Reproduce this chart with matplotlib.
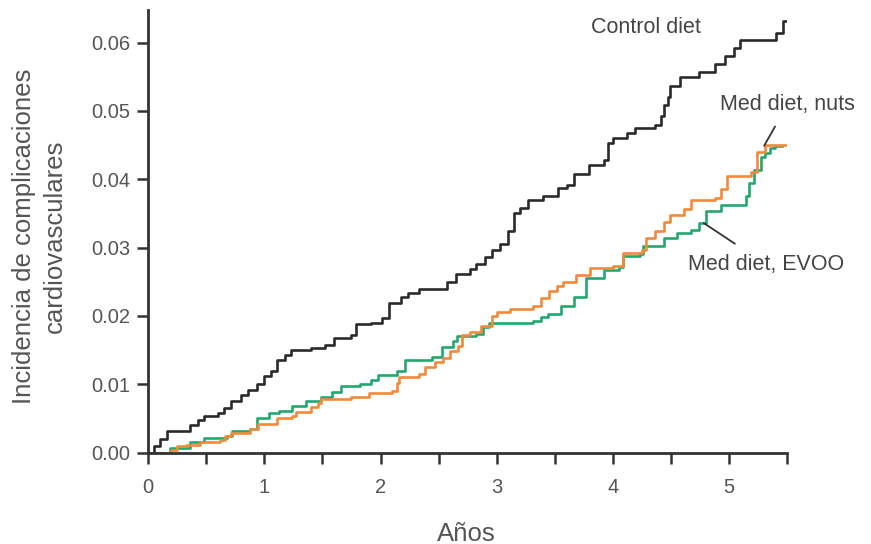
import matplotlib
matplotlib.use("Agg")
import matplotlib.pyplot as plt

plt.rcParams['font.family'] = ['Liberation Sans', 'DejaVu Sans']

# step curves: time (years) at which cumulative incidence jumps to the value
control_t = [0, 0.05, 0.10, 0.16, 0.36, 0.43, 0.48, 0.60, 0.65, 0.71, 0.80, 0.86,
             0.94, 1.00, 1.06, 1.11, 1.18, 1.23, 1.40, 1.52, 1.60, 1.75, 1.79, 1.92,
             2.01, 2.07, 2.18, 2.24, 2.33, 2.57, 2.65, 2.77, 2.82, 2.90, 2.96, 3.03,
             3.10, 3.15, 3.20, 3.27, 3.40, 3.53, 3.60, 3.66, 3.79, 3.92, 3.96, 4.00,
             4.12, 4.19, 4.36, 4.41, 4.44, 4.47, 4.49, 4.58, 4.74, 4.88, 4.96, 5.04,
             5.09, 5.40, 5.46, 5.52]
control_y = [0, 0.0010, 0.0020, 0.0031, 0.0040, 0.0048, 0.0054, 0.0058, 0.0066, 0.0075,
             0.0085, 0.0092, 0.0100, 0.0112, 0.0120, 0.0136, 0.0143, 0.0150, 0.0153,
             0.0158, 0.0168, 0.0172, 0.0188, 0.0190, 0.0197, 0.0219, 0.0228, 0.0234,
             0.0240, 0.0250, 0.0262, 0.0268, 0.0276, 0.0286, 0.0296, 0.0305, 0.0325,
             0.0350, 0.0358, 0.0370, 0.0375, 0.0387, 0.0392, 0.0407, 0.0421, 0.0428,
             0.0453, 0.0460, 0.0468, 0.0475, 0.0480, 0.0492, 0.0508, 0.0520, 0.0536,
             0.0550, 0.0557, 0.0568, 0.0580, 0.0592, 0.0604, 0.0614, 0.0631, 0.0631]

nuts_t = [0, 0.20, 0.25, 0.33, 0.45, 0.62, 0.66, 0.71, 0.88, 0.95, 1.11, 1.24, 1.27,
          1.40, 1.46, 1.49, 1.75, 1.90, 2.10, 2.14, 2.16, 2.33, 2.38, 2.47, 2.54, 2.60,
          2.67, 2.70, 2.77, 2.86, 2.96, 3.00, 3.11, 3.31, 3.38, 3.45, 3.52, 3.57, 3.68,
          3.80, 4.00, 4.09, 4.25, 4.28, 4.36, 4.44, 4.49, 4.61, 4.67, 4.88, 4.93, 4.98,
          5.19, 5.24, 5.31, 5.53]
nuts_y = [0, 0.0004, 0.0009, 0.0011, 0.0015, 0.0019, 0.0024, 0.0029, 0.0034, 0.0042,
          0.0051, 0.0054, 0.0060, 0.0067, 0.0073, 0.0079, 0.0082, 0.0087, 0.0090, 0.0102,
          0.0110, 0.0115, 0.0126, 0.0133, 0.0139, 0.0148, 0.0156, 0.0172, 0.0177, 0.0186,
          0.0200, 0.0206, 0.0210, 0.0214, 0.0226, 0.0236, 0.0244, 0.0250, 0.0260, 0.0270,
          0.0273, 0.0292, 0.0296, 0.0314, 0.0324, 0.0338, 0.0348, 0.0356, 0.0370, 0.0373,
          0.0386, 0.0405, 0.0410, 0.0440, 0.0450, 0.0450]

evoo_t = [0, 0.19, 0.36, 0.48, 0.68, 0.72, 0.88, 0.94, 1.04, 1.13, 1.24, 1.36, 1.49,
          1.58, 1.66, 1.82, 1.92, 1.98, 2.14, 2.21, 2.44, 2.53, 2.62, 2.66, 2.82, 2.88,
          2.93, 3.31, 3.38, 3.44, 3.55, 3.66, 3.77, 3.92, 4.05, 4.09, 4.23, 4.26, 4.44,
          4.55, 4.67, 4.74, 4.80, 4.93, 5.14, 5.17, 5.21, 5.27, 5.31, 5.35, 5.39, 5.45]
evoo_y = [0, 0.0007, 0.0015, 0.0021, 0.0024, 0.0031, 0.0035, 0.0051, 0.0058, 0.0061,
          0.0068, 0.0075, 0.0081, 0.0088, 0.0097, 0.0100, 0.0106, 0.0114, 0.0120, 0.0136,
          0.0140, 0.0155, 0.0163, 0.0171, 0.0174, 0.0184, 0.0190, 0.0192, 0.0198, 0.0203,
          0.0215, 0.0228, 0.0255, 0.0267, 0.0272, 0.0287, 0.0290, 0.0302, 0.0314, 0.0321,
          0.0326, 0.0336, 0.0353, 0.0363, 0.0375, 0.0394, 0.0414, 0.0433, 0.0438, 0.0446,
          0.0448, 0.0448]

x_ticks = [0, 1, 2, 3, 4, 5]
y_ticks = [0.00, 0.01, 0.02, 0.03, 0.04, 0.05, 0.06]

text_col = '#555555'
axis_col = '#333333'

fig = plt.figure(figsize=(8.71, 5.44), dpi=100)
ax = fig.add_axes([0.170, 0.168, 0.734, 0.814])

ax.step(evoo_t, evoo_y, where='post', color='#22a86e', lw=1.9)
ax.step(nuts_t, nuts_y, where='post', color='#f28a3a', lw=1.9)
ax.step(control_t, control_y, where='post', color='#2b2b2b', lw=1.9)

ax.set_xlim(0, 5.5)
ax.set_ylim(0, 0.0648)
ax.set_xticks(x_ticks)
ax.set_xticks([0.5, 1.5, 2.5, 3.5, 4.5, 5.5], minor=True)
ax.set_yticks(y_ticks)
ax.set_yticklabels(['%.2f' % v for v in y_ticks])

for s in ['top', 'right']:
    ax.spines[s].set_visible(False)
for s in ['left', 'bottom']:
    ax.spines[s].set_color(axis_col)
    ax.spines[s].set_linewidth(2.0)

ax.tick_params(which='both', direction='out', color=axis_col, width=1.8,
               labelcolor=text_col, labelsize=14.5)
ax.tick_params(axis='x', which='major', length=8, pad=10)
ax.tick_params(axis='x', which='minor', length=8)
ax.tick_params(axis='y', length=8, pad=5)

ax.text(4.28, 0.0622, 'Control diet', fontsize=15.5, color='#444444',
        ha='center', va='center')
ax.annotate('Med diet, nuts', xy=(5.30, 0.0449), xytext=(5.50, 0.0509),
            fontsize=15.5, color='#444444', ha='center', va='center',
            annotation_clip=False,
            arrowprops=dict(arrowstyle='-', color='#333333', lw=1.3,
                            shrinkA=7, shrinkB=0))
ax.annotate('Med diet, EVOO', xy=(4.78, 0.0336), xytext=(5.32, 0.0275),
            fontsize=15.5, color='#444444', ha='center', va='center',
            annotation_clip=False,
            arrowprops=dict(arrowstyle='-', color='#333333', lw=1.3,
                            shrinkA=10, shrinkB=0))

fig.text(0.045, 0.565, 'Incidencia de complicaciones\ncardiovasculares',
         rotation=90, ha='center', va='center', multialignment='center',
         fontsize=18.5, color=text_col, linespacing=1.35)
fig.text(0.535, 0.019, 'Años', ha='center', va='center', fontsize=18.5,
         color=text_col)

fig.savefig('out.png', dpi=100)
